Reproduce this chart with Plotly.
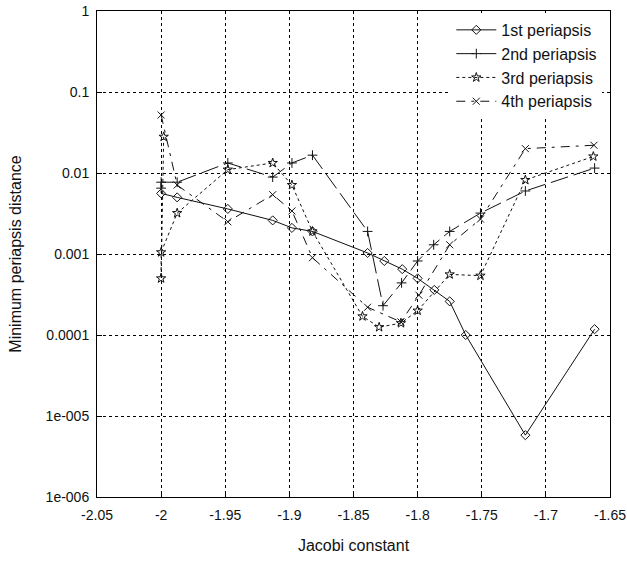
import plotly.graph_objects as go

# ---- data ----
jacobi_1st = [-2.0, -1.9875, -1.948, -1.913, -1.898, -1.882, -1.839, -1.826, -1.812, -1.8, -1.787, -1.775, -1.7625, -1.716, -1.662]
peri_1st = [0.0056, 0.0050, 0.0036, 0.0026, 0.0021, 0.0019, 0.00103, 0.00082, 0.00065, 0.0005, 0.00036, 0.00026, 0.0001, 0.0000058, 0.000118]

jacobi_2nd = [-2.0, -2.0, -1.9875, -1.948, -1.913, -1.898, -1.882, -1.839, -1.827, -1.8125, -1.8, -1.7875, -1.775, -1.751, -1.716, -1.662]
peri_2nd = [0.0065, 0.0077, 0.0077, 0.0133, 0.0089, 0.0133, 0.0166, 0.0019, 0.00023, 0.00044, 0.00082, 0.0013, 0.0019, 0.0032, 0.006, 0.0115]

jacobi_3rd = [-1.998, -2.0, -2.0, -1.9875, -1.948, -1.913, -1.898, -1.882, -1.843, -1.83, -1.813, -1.8, -1.775, -1.751, -1.716, -1.663]
peri_3rd = [0.028, 0.0005, 0.00105, 0.0032, 0.011, 0.0133, 0.0071, 0.0019, 0.00017, 0.000125, 0.00014, 0.0002, 0.00056, 0.00054, 0.0082, 0.016]

jacobi_4th = [-2.0, -1.9875, -1.948, -1.913, -1.898, -1.882, -1.839, -1.813, -1.799, -1.775, -1.751, -1.716, -1.6625]
peri_4th = [0.052, 0.0071, 0.0025, 0.0054, 0.0034, 0.0009, 0.00022, 0.000145, 0.00031, 0.0013, 0.0027, 0.020, 0.022]

series_names = ["1st periapsis", "2nd periapsis", "3rd periapsis", "4th periapsis"]

x_tickvals = [-2.05, -2.0, -1.95, -1.9, -1.85, -1.8, -1.75, -1.7, -1.65]
x_ticktext = ["-2.05", "-2", "-1.95", "-1.9", "-1.85", "-1.8", "-1.75", "-1.7", "-1.65"]
y_tickvals = [1, 0.1, 0.01, 0.001, 0.0001, 0.00001, 0.000001]
y_ticktext = ["1", "0.1", "0.01", "0.001", "0.0001", "1e-005", "1e-006"]

FONT = "Liberation Sans, Arial, sans-serif"
INK = "#111111"

fig = go.Figure()
styles = [
    (jacobi_1st, peri_1st, "solid", "diamond-open", 7),
    (jacobi_2nd, peri_2nd, "18px,6px", "cross-thin-open", 7),
    (jacobi_3rd, peri_3rd, "3px,3px", "star-open", 7),
    (jacobi_4th, peri_4th, "9px,6px,3px,6px", "x-thin-open", 7),
]
for name, (xs, ys, dash, sym, sz) in zip(series_names, styles):
    fig.add_trace(go.Scatter(
        x=xs, y=ys, name=name, mode="lines+markers",
        line=dict(color=INK, width=1, dash=dash),
        marker=dict(symbol=sym, size=sz, color=INK, line=dict(color=INK, width=1)),
    ))

axis_common = dict(
    showline=True, linecolor="black", linewidth=1, mirror=True,
    ticks="inside", ticklen=5, tickcolor="black",
    showgrid=True, gridcolor="black", gridwidth=1, griddash="3px,3px",
    zeroline=False, tickfont=dict(family=FONT, size=14, color=INK),
)

fig.update_xaxes(
    range=[-2.05, -1.65], tickvals=x_tickvals, ticktext=x_ticktext,
    ticklabelstandoff=5,
    title=dict(text="Jacobi constant", font=dict(family=FONT, size=16, color=INK), standoff=18),
    **axis_common,
)
fig.update_yaxes(
    type="log", range=[-6, 0], tickvals=y_tickvals, ticktext=y_ticktext,
    ticklabelstandoff=4,
    title=dict(text="Minimum periapsis distance", font=dict(family=FONT, size=16, color=INK), standoff=20),
    **axis_common,
)

fig.update_layout(
    width=627, height=565,
    margin=dict(l=97, r=17, t=11, b=68, autoexpand=False),
    plot_bgcolor="white", paper_bgcolor="white",
    font=dict(family=FONT, size=14, color=INK),
    legend=dict(
        x=0.985, xanchor="right", y=0.996, yanchor="top",
        bgcolor="white", borderwidth=0,
        font=dict(family=FONT, size=16, color=INK),
        itemwidth=40, tracegroupgap=0,
    ),
    showlegend=True,
)

fig.write_html("out.html")
